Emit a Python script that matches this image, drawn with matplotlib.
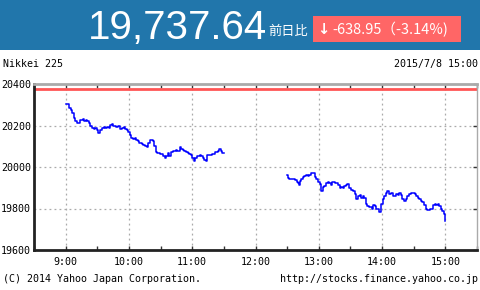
import matplotlib
matplotlib.use("Agg")
import matplotlib.pyplot as plt
import matplotlib.patches as mpatches
from matplotlib.ticker import MultipleLocator

# ── data: Nikkei 225, 2015/7/8 ───────────────────────────────────────────────
prev_close = 20376.59
last_price = 19737.64
change = -638.95
change_pct = -3.14

# morning session, minutes after 9:00
am_minutes = [0, 2, 3, 5, 6, 8, 9, 11, 12, 14, 16, 17, 19, 20, 22, 23, 25, 27,
              28, 30, 31, 33, 34, 36, 37, 39, 41, 42, 44, 45, 47, 48, 50, 52,
              53, 55, 56, 58, 59, 61, 62, 64, 66, 67, 69, 70, 72, 73, 75, 77,
              78, 80, 81, 83, 84, 86, 87, 89, 91, 92, 94, 95, 97, 98, 100, 102,
              103, 105, 106, 108, 109, 111, 112, 114, 116, 117, 119, 120, 122,
              123, 125, 127, 128, 130, 131, 133, 134, 136, 137, 139, 141, 142,
              144, 145, 147, 148, 150]
am_values = [20303, 20303, 20284, 20276, 20260, 20236, 20220, 20212, 20212,
             20228, 20232, 20220, 20228, 20220, 20212, 20196, 20187, 20184,
             20187, 20179, 20163, 20179, 20187, 20191, 20187, 20191, 20187,
             20204, 20207, 20200, 20196, 20191, 20196, 20184, 20187, 20191,
             20184, 20179, 20171, 20155, 20139, 20136, 20139, 20131, 20123,
             20115, 20111, 20107, 20099, 20096, 20115, 20131, 20131, 20123,
             20099, 20072, 20067, 20064, 20062, 20051, 20043, 20051, 20067,
             20051, 20072, 20079, 20075, 20083, 20079, 20094, 20088, 20083,
             20075, 20072, 20067, 20062, 20059, 20043, 20030, 20043, 20051,
             20056, 20051, 20043, 20036, 20030, 20056, 20059, 20059, 20062,
             20062, 20072, 20075, 20088, 20079, 20067, 20067]

# afternoon session, minutes after 12:30
pm_minutes = [0, 1, 2, 4, 5, 7, 9, 10, 11, 12, 13, 15, 16, 18, 20, 21, 23, 24,
              26, 27, 29, 31, 32, 34, 35, 37, 39, 40, 42, 43, 45, 46, 48, 50,
              51, 53, 54, 56, 57, 59, 61, 62, 64, 65, 67, 69, 70, 72, 73, 75,
              76, 78, 80, 81, 83, 84, 86, 87, 89, 91, 92, 94, 95, 97, 98, 100,
              102, 103, 105, 106, 108, 109, 111, 113, 114, 116, 117, 119, 121,
              122, 124, 125, 127, 128, 130, 132, 133, 135, 136, 138, 140, 141,
              143, 144, 146, 147, 149, 150]
pm_values = [19960, 19949, 19944, 19944, 19941, 19936, 19928, 19922, 19912,
             19933, 19944, 19954, 19957, 19960, 19957, 19960, 19970, 19973,
             19954, 19941, 19928, 19917, 19885, 19906, 19909, 19922, 19928,
             19922, 19912, 19928, 19922, 19925, 19912, 19901, 19906, 19901,
             19909, 19912, 19917, 19901, 19890, 19885, 19869, 19845, 19861,
             19864, 19853, 19858, 19853, 19821, 19813, 19805, 19800, 19816,
             19813, 19800, 19800, 19784, 19821, 19845, 19861, 19877, 19885,
             19869, 19874, 19858, 19861, 19869, 19864, 19874, 19864, 19848,
             19837, 19845, 19858, 19869, 19877, 19874, 19869, 19861, 19853,
             19848, 19837, 19829, 19816, 19800, 19794, 19800, 19797, 19816,
             19821, 19816, 19821, 19813, 19800, 19789, 19773, 19738]

hour_ticks = [9, 10, 11, 12, 13, 14, 15]
hour_labels = ["9:00", "10:00", "11:00", "12:00", "13:00", "14:00", "15:00"]
y_ticks = [19600, 19800, 20000, 20200, 20400]

W, H = 480, 290
BLUE_HDR = "#2176ab"
RED_BOX = "#ff6666"
MONO = "DejaVu Sans Mono"
CJK = ["Noto Sans CJK JP", "DejaVu Sans"]

fig = plt.figure(figsize=(W / 100, H / 100), dpi=100)
fig.patch.set_facecolor("white")


def fx(px):
    return px / W


def fy(py):
    return 1 - py / H


# ── header band ──────────────────────────────────────────────────────────────
fig.patches.append(mpatches.Rectangle((0, fy(50)), 1, 50 / H, transform=fig.transFigure,
                                      facecolor=BLUE_HDR, edgecolor="none", zorder=0))
fig.text(fx(88), fy(39.5), f"{last_price:,.2f}", color="white", fontsize=29,
         family="Liberation Sans", ha="left", va="baseline")
fig.text(fx(268), fy(34.5), "前日比", color="white", fontsize=9.5,
         family=CJK, ha="left", va="baseline")
fig.patches.append(mpatches.Rectangle((fx(313), fy(42)), 148 / W, 26 / H,
                                      transform=fig.transFigure, facecolor=RED_BOX,
                                      edgecolor="none", zorder=1))
fig.text(fx(317), fy(34), "↓", color="white", fontsize=10.5, fontweight="bold",
         family="DejaVu Sans", ha="left", va="baseline")
fig.text(fx(332), fy(34.5), f"{change:.2f}（{change_pct:.2f}%)", color="white",
         fontsize=10.5, family=CJK, ha="left", va="baseline")

# sub header / footer
fig.text(fx(3), fy(67), "Nikkei 225", fontsize=7.2, family=MONO, ha="left", va="baseline")
fig.text(fx(478), fy(67), "2015/7/8 15:00", fontsize=7.2, family=MONO, ha="right", va="baseline")
fig.text(fx(3), fy(282), "(C) 2014 Yahoo Japan Corporation.", fontsize=7.2, family=MONO,
         ha="left", va="baseline")
fig.text(fx(478), fy(282), "http://stocks.finance.yahoo.co.jp", fontsize=7.2, family=MONO,
         ha="right", va="baseline")

# ── chart ────────────────────────────────────────────────────────────────────
ax = fig.add_axes([fx(34), fy(250), (477 - 34) / W, (250 - 84) / H])
ax.set_xlim(8.5, 15.5)
ax.set_ylim(19600, 20400)

ax.plot([9 + m / 60 for m in am_minutes], am_values, color="#0000ff", lw=1.1,
        drawstyle="steps-post")
ax.plot([12.5 + m / 60 for m in pm_minutes], pm_values, color="#0000ff", lw=1.1,
        drawstyle="steps-post")
ax.axhline(prev_close, color="#ff5555", lw=2)

for h in hour_ticks:
    ax.axvline(h, color="#aaaaaa", lw=0.9, ls=(0, (1.5, 2.5)), zorder=0)
for v in y_ticks[1:-1]:
    ax.axhline(v, color="#aaaaaa", lw=0.9, ls=(0, (1.5, 2.5)), zorder=0)

ax.set_xticks(hour_ticks)
ax.set_xticklabels(hour_labels)
ax.xaxis.set_minor_locator(MultipleLocator(0.5))
ax.set_yticks(y_ticks)
ax.set_yticklabels([str(v) for v in y_ticks])
ax.tick_params(axis="x", which="both", direction="in", top=True, bottom=True,
               length=3, width=1, color="#333333", pad=5, labelsize=7.2)
ax.tick_params(axis="y", direction="in", left=False, right=True, length=3,
               width=1, color="#333333", pad=2, labelsize=7.2)
for lab in ax.get_xticklabels() + ax.get_yticklabels():
    lab.set_family(MONO)

ax.spines["left"].set_color("#222222")
ax.spines["left"].set_linewidth(2)
ax.spines["bottom"].set_color("#222222")
ax.spines["bottom"].set_linewidth(2)
ax.spines["top"].set_color("#aaaaaa")
ax.spines["top"].set_linewidth(2)
ax.spines["right"].set_color("#aaaaaa")
ax.spines["right"].set_linewidth(1)

fig.savefig("out.png", dpi=100)
